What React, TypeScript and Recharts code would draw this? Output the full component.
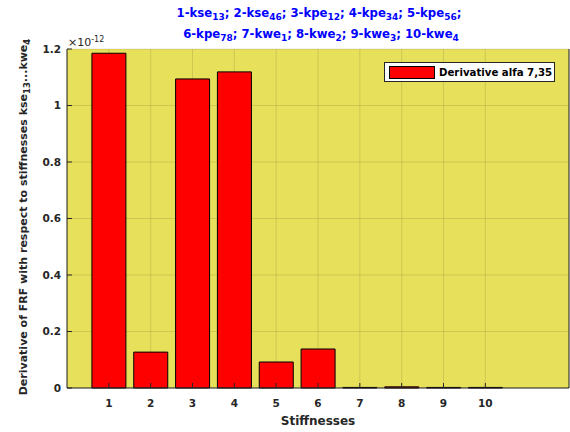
import React from 'react';
import { BarChart, Bar, XAxis, YAxis, CartesianGrid } from 'recharts';

// values in units of 1e-12
const stiffness = [1, 2, 3, 4, 5, 6, 7, 8, 9, 10];
const derivative = [1.185, 0.127, 1.094, 1.119, 0.092, 0.138, 0.002, 0.004, 0.002, 0.002];
const yTicks = [0, 0.2, 0.4, 0.6, 0.8, 1, 1.2];
const SCALE = 1e-12;

const data = stiffness.map((s, i) => ({ s, v: derivative[i] * SCALE }));

const TXT = '#262626';
const FONT = '"DejaVu Sans", sans-serif';

const BottomTick = (props: any) => {
  const { x, y, payload } = props;
  return (
    <g>
      <line x1={x} x2={x} y1={y} y2={y - 5} stroke={TXT} />
      <text x={x} y={y + 19} textAnchor="middle" fill={TXT} fontSize={10.5} fontWeight="bold" fontFamily={FONT}>
        {payload.value}
      </text>
    </g>
  );
};

const TopTick = (props: any) => {
  const { x, y } = props;
  return <line x1={x} x2={x} y1={y} y2={y + 5} stroke={TXT} />;
};

const LeftTick = (props: any) => {
  const { x, y, payload } = props;
  const label = Number((payload.value / SCALE).toFixed(2)).toString();
  return (
    <g>
      <line x1={x} x2={x + 5} y1={y} y2={y} stroke={TXT} />
      <text x={x - 6} y={y} dy="0.36em" textAnchor="end" fill={TXT} fontSize={10.5} fontWeight="bold" fontFamily={FONT}>
        {label}
      </text>
    </g>
  );
};

const RightTick = (props: any) => {
  const { x, y } = props;
  return <line x1={x} x2={x - 5} y1={y} y2={y} stroke={TXT} />;
};

const Sub = ({ children, size = 8.5 }: { children: React.ReactNode; size?: number }) => (
  <tspan baselineShift="-30%" fontSize={size}>{children}</tspan>
);

export default function App() {
  return (
    <div style={{ position: 'absolute', left: 0, top: 0, width: 570, height: 432, background: '#fff' }}>
      <BarChart width={570} height={432} data={data} margin={{ top: 49, right: 0, left: 0, bottom: 0 }}>
        <CartesianGrid fill="#e6e05a" stroke="#262626" strokeOpacity={0.13} />
        <Bar dataKey="v" name="Derivative alfa 7,35" fill="#ff0000" stroke="#000" strokeWidth={1} barSize={34} isAnimationActive={false} />
        <XAxis
          dataKey="s"
          type="number"
          domain={[0, 12]}
          ticks={stiffness}
          height={44}
          tickSize={0}
          tickMargin={0}
          tickLine={false}
          axisLine={{ stroke: TXT }}
          tick={<BottomTick />}
          interval={0}
        />
        <XAxis
          xAxisId="top"
          orientation="top"
          dataKey="s"
          type="number"
          domain={[0, 12]}
          ticks={stiffness}
          height={0}
          tickSize={0}
          tickMargin={0}
          tickLine={false}
          axisLine={{ stroke: TXT }}
          tick={<TopTick />}
          interval={0}
        />
        <YAxis
          type="number"
          domain={[0, 1.2 * SCALE]}
          ticks={yTicks.map((t) => t * SCALE)}
          width={67}
          tickSize={0}
          tickMargin={0}
          tickLine={false}
          axisLine={{ stroke: TXT }}
          tick={<LeftTick />}
          interval={0}
        />
        <YAxis
          yAxisId="right"
          orientation="right"
          type="number"
          domain={[0, 1.2 * SCALE]}
          ticks={yTicks.map((t) => t * SCALE)}
          width={1}
          tickSize={0}
          tickMargin={0}
          tickLine={false}
          axisLine={{ stroke: TXT }}
          tick={<RightTick />}
          interval={0}
        />
        {/* legend */}
        <rect x={384.5} y={62.5} width={170} height={19} fill="#fff" stroke={TXT} />
        <rect x={389.5} y={66.5} width={45} height={12} fill="#ff0000" stroke="#000" />
        <text x={439} y={76} fill="#000" fontSize={10.2} fontWeight="bold" fontFamily={FONT}>
          Derivative alfa 7,35
        </text>
        <text x={319} y={17} textAnchor="middle" fill="#0000ff" fontSize={11.7} fontWeight="bold" fontFamily={FONT}>
          1-kse<Sub size={9}>13</Sub>; 2-kse<Sub size={9}>46</Sub>; 3-kpe<Sub size={9}>12</Sub>; 4-kpe<Sub size={9}>34</Sub>; 5-kpe<Sub size={9}>56</Sub>;
        </text>
        <text x={321} y={38} textAnchor="middle" fill="#0000ff" fontSize={11.7} fontWeight="bold" fontFamily={FONT}>
          6-kpe<Sub size={9}>78</Sub>; 7-kwe<Sub size={9}>1</Sub>; 8-kwe<Sub size={9}>2</Sub>; 9-kwe<Sub size={9}>3</Sub>; 10-kwe<Sub size={9}>4</Sub>
        </text>
        <text x={68} y={46} fill={TXT} fontSize={11} fontFamily={FONT}>
          ×10<tspan baselineShift="55%" fontSize={8}>-12</tspan>
        </text>
        <text
          x={27}
          y={217}
          transform="rotate(-90 27 217)"
          textAnchor="middle"
          fill={TXT}
          fontSize={11}
          fontWeight="bold"
          fontFamily={FONT}
        >
          Derivative of FRF with respect to stiffnesses kse<Sub>13</Sub>...kwe<Sub>4</Sub>
        </text>
        <text x={318} y={425} textAnchor="middle" fill={TXT} fontSize={12} fontWeight="bold" fontFamily={FONT}>
          Stiffnesses
        </text>
      </BarChart>
    </div>
  );
}
